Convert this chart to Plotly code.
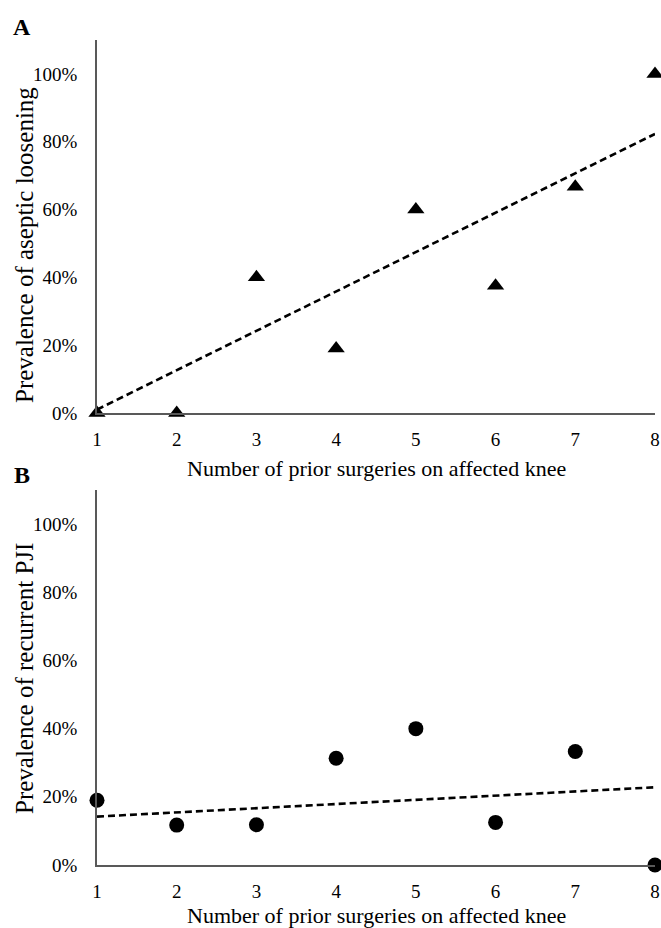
import plotly.graph_objects as go
from plotly.subplots import make_subplots

# ---- data ----
surgeries = [1, 2, 3, 4, 5, 6, 7, 8]
aseptic_loosening = [0, 0, 40, 19, 60, 37.5, 66.7, 100]
recurrent_pji = [19, 11.7, 11.8, 31.3, 40, 12.5, 33.3, 0]
trend_x = [1, 8]
trend_a = [1, 82.3]
trend_b = [14.2, 22.8]
y_tickvals = [0, 20, 40, 60, 80, 100]
y_ticktext = ["0%", "20%", "40%", "60%", "80%", "100%"]
x_title = "Number of prior surgeries on affected knee"
y_title_a = "Prevalence of aseptic loosening"
y_title_b = "Prevalence of recurrent PJI"

FONT = "Liberation Serif, Times New Roman, serif"
AXIS_COLOR = "#595959"

# plot area in page pixels (reference): x 97..655, y 40..865
PX_L, PX_R, PX_T, PX_B = 97, 655, 40, 865
W, H = 661, 928
def px_x(x):
    return (x - PX_L) / (PX_R - PX_L)
def px_y(y):
    return (PX_B - y) / (PX_B - PX_T)

fig = make_subplots(rows=2, cols=1, vertical_spacing=0.0)

fig.add_trace(go.Scatter(x=surgeries, y=aseptic_loosening, mode="markers",
                         marker=dict(symbol="triangle-up", size=15, color="black"),
                         cliponaxis=False, showlegend=False), row=1, col=1)
fig.add_trace(go.Scatter(x=trend_x, y=trend_a, mode="lines",
                         line=dict(color="black", width=2.6, dash="7px,4px"),
                         showlegend=False), row=1, col=1)
fig.add_trace(go.Scatter(x=surgeries, y=recurrent_pji, mode="markers",
                         marker=dict(symbol="circle", size=15, color="black"),
                         cliponaxis=False, showlegend=False), row=2, col=1)
fig.add_trace(go.Scatter(x=trend_x, y=trend_b, mode="lines",
                         line=dict(color="black", width=2.6, dash="7px,4px"),
                         showlegend=False), row=2, col=1)

xaxis_common = dict(range=[1, 8], tickvals=surgeries, showgrid=False, zeroline=False,
                    showline=True, linecolor=AXIS_COLOR, linewidth=1.5, ticks="",
                    ticklabelstandoff=8, automargin=False,
                    tickfont=dict(family=FONT, size=19, color="black"))
yaxis_common = dict(range=[0, 110], tickvals=y_tickvals, ticktext=y_ticktext,
                    showgrid=False, zeroline=False, showline=True, linecolor=AXIS_COLOR,
                    linewidth=1.5, ticks="", ticklabelstandoff=14, automargin=False,
                    tickfont=dict(family=FONT, size=19, color="black"))

fig.update_xaxes(**xaxis_common, row=1, col=1)
fig.update_xaxes(**xaxis_common, row=2, col=1)
fig.update_yaxes(**yaxis_common, row=1, col=1)
fig.update_yaxes(**yaxis_common, row=2, col=1)

fig.update_layout(
    width=W, height=H,
    margin=dict(l=PX_L, r=W - PX_R, t=PX_T, b=H - PX_B),
    paper_bgcolor="white", plot_bgcolor="white",
    yaxis=dict(domain=[px_y(413), 1.0]),
    yaxis2=dict(domain=[0.0, px_y(490)]),
)

title_font = dict(family=FONT, size=22, color="black")
ytitle_font = dict(family=FONT, size=25, color="black")
letter_font = dict(family=FONT, size=24, color="black")

for ycen in (468, 915):
    fig.add_annotation(text=x_title, xref="paper", yref="paper", x=px_x(376), y=px_y(ycen),
                       xanchor="center", yanchor="middle", showarrow=False, font=title_font)
fig.add_annotation(text=y_title_a, xref="paper", yref="paper", x=px_x(24), y=px_y(245),
                   xanchor="center", yanchor="middle", textangle=-90, showarrow=False,
                   font=ytitle_font)
fig.add_annotation(text=y_title_b, xref="paper", yref="paper", x=px_x(24), y=px_y(678),
                   xanchor="center", yanchor="middle", textangle=-90, showarrow=False,
                   font=ytitle_font)
fig.add_annotation(text="<b>A</b>", xref="paper", yref="paper", x=px_x(22), y=px_y(27),
                   xanchor="center", yanchor="middle", showarrow=False, font=letter_font)
fig.add_annotation(text="<b>B</b>", xref="paper", yref="paper", x=px_x(22), y=px_y(475),
                   xanchor="center", yanchor="middle", showarrow=False, font=letter_font)

fig.write_html(
    "out.html",
    config={"displayModeBar": False},
    post_script="document.body.style.margin='0';document.body.style.overflow='hidden';",
)
